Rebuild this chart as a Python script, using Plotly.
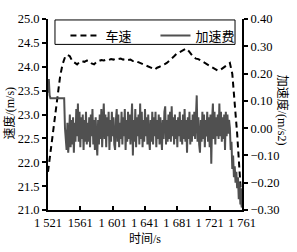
import plotly.graph_objects as go

# ---------------- data ----------------
speed_time = list(range(1521, 1762, 3))
speed = [21.80, 22.20, 22.65, 23.05, 23.45, 23.80, 24.05, 24.20, 24.25, 24.22,
         24.12, 24.08, 24.05, 24.10, 24.12, 24.10, 24.13, 24.12, 24.07, 24.05,
         24.10, 24.12, 24.14, 24.13, 24.15, 24.14, 24.16, 24.15, 24.17, 24.16,
         24.17, 24.15, 24.16, 24.14, 24.15, 24.12, 24.13, 24.10, 24.08, 24.06,
         24.04, 24.02, 24.00, 23.97, 23.94, 23.98, 24.00, 24.02, 24.05, 24.08,
         24.12, 24.17, 24.22, 24.27, 24.30, 24.33, 24.36, 24.38, 24.33, 24.26,
         24.20, 24.17, 24.16, 24.13, 24.10, 24.07, 24.03, 24.00, 23.97, 23.94,
         23.92, 23.93, 23.97, 24.00, 24.05, 24.08, 23.85, 23.30, 22.60, 21.80,
         21.00]

acc_time = list(range(1521, 1762))
acc = [0.13, 0.18, 0.12, 0.11,
       0.11, 0.11, 0.11, 0.11, 0.11, 0.11, 0.11, 0.11, 0.11, 0.11,
       0.11, 0.11, 0.11, 0.11, 0.11, 0.11, 0.11,
       0.00,
       -0.03, -0.08, 0.02, -0.09, -0.04, 0.05, -0.07, 0.03, -0.06, 0.04,
       -0.09, 0.02, -0.05, 0.07, -0.03, 0.09, -0.05, 0.06, -0.07, 0.04,
       -0.04, 0.05, -0.08, 0.03, -0.05, 0.06, -0.06, 0.02, -0.05, 0.04,
       -0.07, 0.05, -0.03, 0.07, -0.06, 0.03, -0.08, 0.04, -0.05, -0.10,
       0.03, -0.06, 0.05, -0.04, 0.07, -0.07, 0.02, 0.09, -0.04, 0.05,
       -0.07, 0.04, -0.03, 0.06, -0.08, 0.03, -0.05, 0.06, -0.03, 0.04,
       -0.06, -0.08, 0.03, 0.07, -0.05, 0.05, -0.07, 0.02, -0.04, 0.06,
       -0.06, 0.04, -0.03, 0.07, -0.08, 0.03, -0.05, 0.06, -0.04, 0.05,
       -0.06, 0.04, 0.09, -0.10, 0.03, -0.05, 0.07, -0.07, 0.04, -0.03,
       0.05, -0.06, 0.09, -0.04, 0.06, -0.07, 0.03, -0.05, 0.07, -0.03,
       0.04, -0.06, 0.05, -0.04, -0.08, 0.03, -0.05, 0.06, -0.06, 0.04,
       -0.03, 0.06, -0.07, 0.03, -0.04, 0.05, -0.06, 0.04, -0.05, -0.08,
       0.03, -0.04, 0.06, 0.08, -0.06, 0.03, -0.05, 0.05, -0.04, 0.06,
       -0.05, 0.08, -0.03, 0.04, -0.06, 0.05, -0.04, 0.03, -0.07, 0.04,
       -0.03, 0.06, -0.05, 0.03, -0.06, 0.05, -0.04, 0.07, -0.05, 0.03,
       -0.09, 0.04, -0.04, 0.06, -0.06, 0.03, -0.05, 0.05, -0.03, 0.06,
       -0.04, 0.07, 0.12, -0.05, 0.04, -0.06, -0.09, 0.03, -0.05, 0.06,
       -0.04, 0.05, -0.07, 0.03, -0.03, 0.06, -0.05, 0.04, -0.07, 0.05,
       -0.13, 0.03, 0.09, -0.04, 0.06, -0.06, 0.04, -0.03, 0.05, -0.04,
       0.09, -0.03, 0.06, -0.05, 0.04, -0.04, 0.05, -0.08, 0.06, -0.03,
       0.05, -0.02, 0.03,
       0.00, -0.08, -0.05, -0.15, -0.10, -0.18, -0.14, -0.20, -0.16, -0.22,
       -0.18, -0.26, -0.20, -0.28, -0.22, -0.29]

x_tickvals = [1521, 1561, 1601, 1641, 1681, 1721, 1761]
x_ticktext = ["1 521", "1561", "1 601", "1 641", "1 681", "1 721", "1 761"]

assert len(speed) == len(speed_time), (len(speed), len(speed_time))
assert len(acc) == len(acc_time), (len(acc), len(acc_time))

FONT = "Liberation Serif, Noto Sans CJK SC, serif"

fig = go.Figure()
fig.add_trace(go.Scatter(x=acc_time, y=acc, mode="lines", name="加速费", yaxis="y2",
                         line=dict(color="#505050", width=2)))
fig.add_trace(go.Scatter(x=speed_time, y=speed, mode="lines", name="车速", yaxis="y",
                         line=dict(color="#000000", width=2, dash="6px,4px")))

fig.update_layout(
    width=297, height=252,
    margin=dict(l=48, r=55, t=14, b=42),
    paper_bgcolor="white", plot_bgcolor="white",
    font=dict(family=FONT, size=13, color="black"),
    showlegend=True,
    legend=dict(orientation="h", x=0.09, y=0.992, xanchor="left", yanchor="top",
                bgcolor="rgba(0,0,0,0)", borderwidth=0, traceorder="reversed",
                font=dict(family=FONT, size=13), entrywidth=45, entrywidthmode="pixels",
                itemwidth=30),
    xaxis=dict(range=[1521, 1761], tickvals=x_tickvals, ticktext=x_ticktext,
               showgrid=False, zeroline=False, showline=True, linecolor="black", linewidth=2,
               ticks="inside", ticklen=4, tickcolor="black", tickwidth=2,
               tickfont=dict(family=FONT, size=12.5)),
    yaxis=dict(range=[21, 25], dtick=0.5, tickformat=".1f",
               showgrid=False, zeroline=False, showline=True, linecolor="black", linewidth=2,
               ticks="outside", ticklen=4, tickcolor="black", tickwidth=2,
               tickfont=dict(family=FONT, size=12.5)),
    yaxis2=dict(range=[-0.3, 0.4], dtick=0.1, tickformat=".2f", overlaying="y", side="right",
                showgrid=False, zeroline=False, showline=True, linecolor="black", linewidth=2,
                ticks="outside", ticklen=4, tickcolor="black", tickwidth=2,
                tickfont=dict(family=FONT, size=12.5)),
    shapes=[dict(type="rect", xref="paper", yref="paper", x0=0.036, x1=0.964, y0=0.867, y1=0.995,
                 line=dict(color="black", width=1), fillcolor="rgba(0,0,0,0)")],
    annotations=[
        dict(text="时间/s", xref="paper", yref="paper", x=0.5, y=-0.15, xanchor="center",
             yanchor="middle", showarrow=False, font=dict(family=FONT, size=12)),
        dict(text="速度/(m/s)", xref="paper", yref="paper", x=-0.196, y=0.51, textangle=-90,
             xanchor="center", yanchor="middle", showarrow=False, font=dict(family=FONT, size=12)),
        dict(text="加速度/(m/s2)", xref="paper", yref="paper", x=1.206, y=0.52, textangle=90,
             xanchor="center", yanchor="middle", showarrow=False, font=dict(family=FONT, size=12)),
    ],
)

fig.write_html("out.html")
